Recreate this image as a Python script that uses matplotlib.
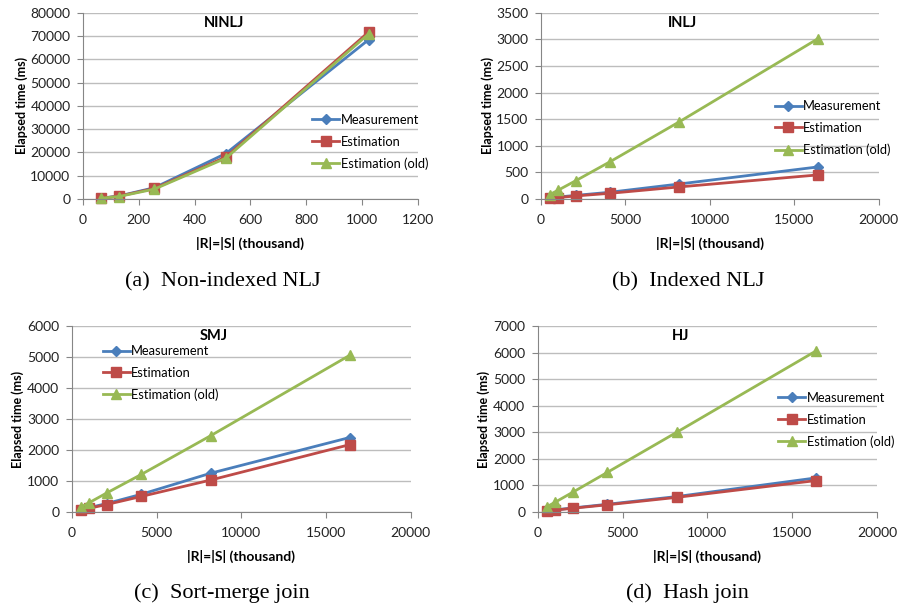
import numpy as np
import matplotlib
matplotlib.use("Agg")
import matplotlib.pyplot as plt

# data
x_ninlj = [64, 128, 256, 512, 1024]
meas_ninlj = [300, 1200, 4800, 19500, 68500]
est_ninlj = [280, 1100, 4500, 18000, 71800]
old_ninlj = [270, 1000, 4200, 17500, 71000]

x_big = [512, 1024, 2048, 4096, 8192, 16384]
meas_inlj = [15, 35, 65, 125, 280, 600]
est_inlj = [10, 25, 55, 105, 225, 450]
old_inlj = [80, 165, 340, 700, 1450, 3010]

meas_smj = [70, 140, 270, 570, 1250, 2400]
est_smj = [55, 120, 240, 500, 1030, 2170]
old_smj = [150, 300, 610, 1210, 2460, 5050]

meas_hj = [40, 80, 150, 290, 580, 1280]
est_hj = [35, 70, 140, 270, 550, 1180]
old_hj = [190, 370, 740, 1490, 3000, 6050]

series_names = ["Measurement", "Estimation", "Estimation (old)"]
colors = ["#4A7EBB", "#BE4B48", "#98B954"]
markers = ["D", "s", "^"]
msizes = [5, 7, 7.5]

plt.rcParams['font.family'] = ['Lato', 'DejaVu Sans']

fig = plt.figure(figsize=(8.98, 6.10), dpi=100)

panels = [
    # rect, title, x, ys, xlim, xstep, ylim, ystep, legend anchor, caption, caption pos
    ([0.0924, 0.674, 0.373, 0.305], "NINLJ", x_ninlj, [meas_ninlj, est_ninlj, old_ninlj],
     1200, 200, 80000, 10000, (0.684, 0.306), "(a)  Non-indexed NLJ", (0.248, 0.538)),
    ([0.6025, 0.674, 0.376, 0.305], "INLJ", x_big, [meas_inlj, est_inlj, old_inlj],
     20000, 5000, 3500, 500, (0.692, 0.38), "(b)  Indexed NLJ", (0.766, 0.538)),
    ([0.080, 0.1607, 0.3775, 0.305], "SMJ", x_big, [meas_smj, est_smj, old_smj],
     20000, 5000, 6000, 1000, (0.091, 0.747), "(c)  Sort-merge join", (0.247, 0.027)),
    ([0.599, 0.1607, 0.3775, 0.305], "HJ", x_big, [meas_hj, est_hj, old_hj],
     20000, 5000, 7000, 1000, (0.709, 0.495), "(d)  Hash join", (0.766, 0.027)),
]

for rect, title, xs, ys, xmax, xstep, ymax, ystep, lpos, cap, cpos in panels:
    ax = fig.add_axes(rect)
    for y, name, c, m, ms in zip(ys, series_names, colors, markers, msizes):
        ax.plot(xs, y, color=c, lw=2.0, marker=m, markersize=ms, label=name,
                markeredgecolor=c, clip_on=False)
    ax.set_xlim(0, xmax)
    ax.set_ylim(0, ymax)
    ax.set_xticks(np.arange(0, xmax + 1, xstep))
    ax.set_yticks(np.arange(0, ymax + 1, ystep))
    ax.grid(axis='y', color='#BDBDBD', lw=1.0)
    ax.set_axisbelow(True)
    for s in ['top', 'right']:
        ax.spines[s].set_visible(False)
    for s in ['left', 'bottom']:
        ax.spines[s].set_color('#868686')
    ax.tick_params(axis='both', colors='#868686', labelcolor='#222222', labelsize=10,
                   length=4, direction='out')
    ax.tick_params(axis='x', pad=7)
    ax.tick_params(axis='y', pad=5)
    ax.set_xlabel("|R|=|S| (thousand)", fontsize=10, fontweight='bold', labelpad=8)
    ax.set_ylabel("Elapsed time (ms)", fontsize=9, fontweight='bold', labelpad=2)
    ax.text(0.42, 0.985, title, transform=ax.transAxes, ha='center', va='top',
            fontsize=10.5, fontweight='bold')
    leg = ax.legend(loc='center left', bbox_to_anchor=lpos, frameon=False, fontsize=9.3,
                    handlelength=2.1, handletextpad=0.1, labelspacing=0.75,
                    borderaxespad=0, borderpad=0)
    fig.text(cpos[0], cpos[1], cap, ha='center', va='center', fontsize=16,
             family=['Liberation Serif', 'DejaVu Serif'])

fig.savefig("out.png", dpi=100)
